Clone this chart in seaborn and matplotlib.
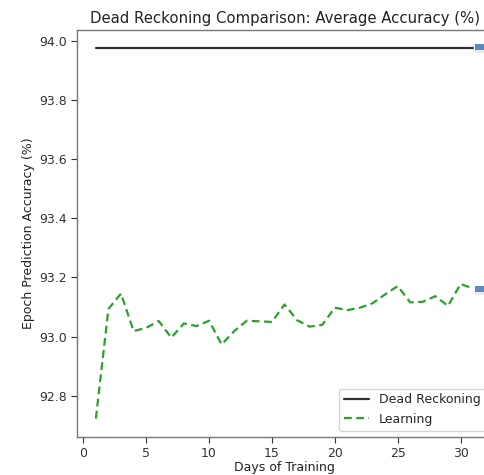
import numpy as np
import pandas as pd
import seaborn as sns
import matplotlib
matplotlib.use("Agg")
import matplotlib.pyplot as plt
from matplotlib.patches import Rectangle

days = list(range(1, 32))
dead_reckoning = [93.973] * 31
learning = [92.724, 93.094, 93.146, 93.019, 93.030, 93.053, 92.997, 93.045, 93.036, 93.054,
            92.974, 93.019, 93.054, 93.052, 93.050, 93.109, 93.056, 93.034, 93.040, 93.098,
            93.090, 93.098, 93.113, 93.143, 93.171, 93.116, 93.118, 93.137, 93.104, 93.178,
            93.163]

title = "Dead Reckoning Comparison: Average Accuracy (%)"
xlabel = "Days of Training"
ylabel = "Epoch Prediction Accuracy (%)"

df = pd.DataFrame({"Day": days + days,
                   "Accuracy": dead_reckoning + learning,
                   "Method": ["Dead Reckoning"] * 31 + ["Learning"] * 31})

sns.set_style("white")
plt.rcParams['font.family'] = ['DejaVu Sans']

fig = plt.figure(figsize=(4.84, 4.75), dpi=100)
ax = fig.add_axes([77 / 484, 1 - 437 / 475, (492 - 77) / 484, (437 - 30) / 475])

sns.lineplot(data=df, x="Day", y="Accuracy", hue="Method", style="Method",
             palette={"Dead Reckoning": "#333333", "Learning": "#2ca02c"},
             dashes={"Dead Reckoning": "", "Learning": (3.5, 2)},
             linewidth=1.6, ax=ax)

ax.set_title(title, fontsize=10.7, color="#222222", pad=5)
ax.set_xlabel(xlabel, fontsize=9, color="#222222", labelpad=0.5)
ax.set_ylabel(ylabel, fontsize=9, color="#222222", labelpad=3)
ax.set_xticks([0, 5, 10, 15, 20, 25, 30])
ax.set_yticks([92.8, 93.0, 93.2, 93.4, 93.6, 93.8, 94.0])
ax.set_yticklabels([f"{v:.1f}" for v in [92.8, 93.0, 93.2, 93.4, 93.6, 93.8, 94.0]])
ax.tick_params(axis="both", labelsize=9, colors="#333333", length=4, width=0.8,
               direction="out", left=True, bottom=True)
for s in ax.spines.values():
    s.set_color("#777777")
    s.set_linewidth(1.0)

leg = ax.legend(loc="lower right", fontsize=9, frameon=True, handlelength=2.0,
                borderaxespad=0.5)
leg.get_frame().set_edgecolor("#cccccc")
leg.set_title(None)

# blue tab-like markers at the right edge
for yc in (47, 289):
    fig.patches.append(Rectangle((475 / 484, 1 - (yc + 6) / 475), 12 / 484, 6 / 475,
                                 transform=fig.transFigure, facecolor="#dddddd",
                                 edgecolor="none", alpha=0.6, zorder=9))
    fig.patches.append(Rectangle((475 / 484, 1 - (yc + 3) / 475), 12 / 484, 6 / 475,
                                 transform=fig.transFigure, facecolor="#5b8ac0",
                                 edgecolor="none", zorder=10))

fig.savefig("out.png", dpi=100)
